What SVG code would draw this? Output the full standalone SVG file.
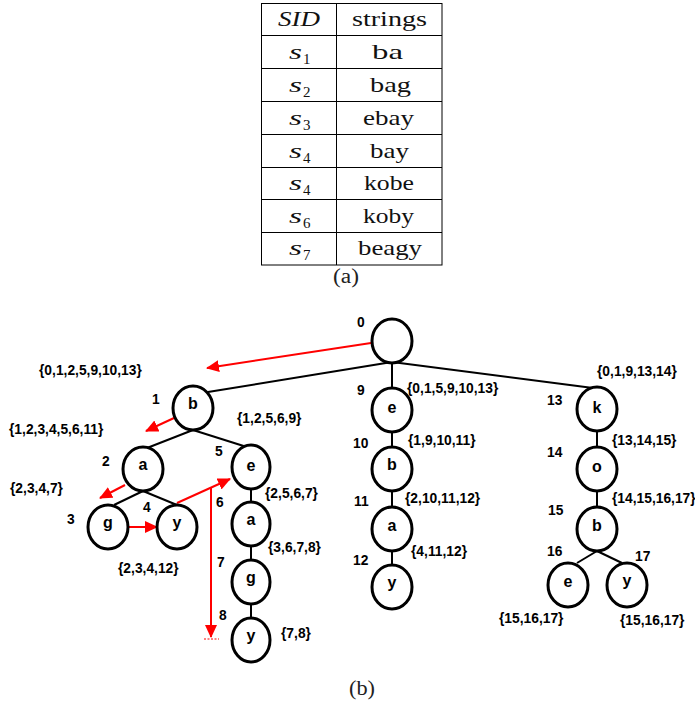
<svg xmlns="http://www.w3.org/2000/svg" width="695" height="706" viewBox="0 0 695 706">
  <style>
    .grid { stroke: #000; stroke-width: 1; fill: none; }
    .tt { font-family: "Liberation Serif", "DejaVu Serif", serif; font-size: 22px; fill: #111; }
    .ti { font-style: italic; }
    .sub { font-family: "Liberation Serif", "DejaVu Serif", serif; font-size: 15px; fill: #111; }
    .cap { font-family: "Liberation Serif", "DejaVu Serif", serif; font-size: 20px; fill: #222; }
    .node ellipse { fill: #fff; stroke: #000; stroke-width: 3; }
    .node text.ch { font-family: "Liberation Sans", Arial, sans-serif; font-weight: bold; font-size: 16px; text-anchor: middle; fill: #000; }
    .lbl { font-family: "Liberation Sans", Arial, sans-serif; font-weight: bold; font-size: 13.8px; fill: #000; }
    .edge { stroke: #000; stroke-width: 2; fill: none; }
    .red { stroke: #ff0000; stroke-width: 2; fill: none; marker-end: url(#ah); }
  </style>
  <defs>
    <marker id="ah" markerWidth="13" markerHeight="12" refX="12" refY="6" orient="auto" markerUnits="userSpaceOnUse">
      <path d="M0,0 L13,6 L0,12 z" fill="#ff0000"/>
    </marker>
  </defs>

  <!-- (a) string table -->
  <g id="table">
    <rect class="grid" x="261.5" y="3.5" width="180.5" height="261.5"/>
    <line class="grid" x1="336.5" y1="3.5" x2="336.5" y2="265"/>
    <line class="grid" x1="261.5" y1="35.5" x2="442" y2="35.5"/>
    <line class="grid" x1="261.5" y1="68.5" x2="442" y2="68.5"/>
    <line class="grid" x1="261.5" y1="101.5" x2="442" y2="101.5"/>
    <line class="grid" x1="261.5" y1="134.5" x2="442" y2="134.5"/>
    <line class="grid" x1="261.5" y1="167.5" x2="442" y2="167.5"/>
    <line class="grid" x1="261.5" y1="199.5" x2="442" y2="199.5"/>
    <line class="grid" x1="261.5" y1="232.5" x2="442" y2="232.5"/>

    <text class="tt ti" x="278" y="26" textLength="42" lengthAdjust="spacingAndGlyphs">SID</text>
    <text class="tt" x="352" y="26" textLength="75" lengthAdjust="spacingAndGlyphs">strings</text>

    <text class="tt ti" x="289" y="59" textLength="13" lengthAdjust="spacingAndGlyphs">s</text><text class="sub" x="303" y="64">1</text>
    <text class="tt ti" x="289" y="92" textLength="13" lengthAdjust="spacingAndGlyphs">s</text><text class="sub" x="303" y="97">2</text>
    <text class="tt ti" x="289" y="125" textLength="13" lengthAdjust="spacingAndGlyphs">s</text><text class="sub" x="303" y="130">3</text>
    <text class="tt ti" x="289" y="158" textLength="13" lengthAdjust="spacingAndGlyphs">s</text><text class="sub" x="303" y="163">4</text>
    <text class="tt ti" x="289" y="190" textLength="13" lengthAdjust="spacingAndGlyphs">s</text><text class="sub" x="303" y="195">4</text>
    <text class="tt ti" x="289" y="223" textLength="13" lengthAdjust="spacingAndGlyphs">s</text><text class="sub" x="303" y="228">6</text>
    <text class="tt ti" x="289" y="255" textLength="13" lengthAdjust="spacingAndGlyphs">s</text><text class="sub" x="303" y="260">7</text>

    <text class="tt" x="372" y="59" textLength="31" lengthAdjust="spacingAndGlyphs">ba</text>
    <text class="tt" x="370" y="92" textLength="41" lengthAdjust="spacingAndGlyphs">bag</text>
    <text class="tt" x="363" y="125" textLength="51" lengthAdjust="spacingAndGlyphs">ebay</text>
    <text class="tt" x="370" y="158" textLength="39" lengthAdjust="spacingAndGlyphs">bay</text>
    <text class="tt" x="364" y="190" textLength="50" lengthAdjust="spacingAndGlyphs">kobe</text>
    <text class="tt" x="363" y="223" textLength="51" lengthAdjust="spacingAndGlyphs">koby</text>
    <text class="tt" x="358" y="255" textLength="64" lengthAdjust="spacingAndGlyphs">beagy</text>
  </g>
  <text class="cap" x="333" y="283" textLength="26" lengthAdjust="spacingAndGlyphs">(a)</text>

  <!-- (b) trie: edges -->
  <g id="connectors">
    <line class="edge" x1="392" y1="362" x2="208" y2="392"/>
    <line class="edge" x1="392" y1="362" x2="392" y2="389"/>
    <line class="edge" x1="392" y1="362" x2="593" y2="388"/>
    <line class="edge" x1="193" y1="430" x2="147" y2="448"/>
    <line class="edge" x1="193" y1="430" x2="250" y2="448"/>
    <line class="edge" x1="143" y1="491" x2="114" y2="505"/>
    <line class="edge" x1="143" y1="491" x2="177" y2="505"/>
    <line class="edge" x1="251" y1="489" x2="251" y2="502"/>
    <line class="edge" x1="251" y1="546" x2="251" y2="560"/>
    <line class="edge" x1="251" y1="604" x2="251" y2="618"/>
    <line class="edge" x1="392" y1="432" x2="392" y2="447"/>
    <line class="edge" x1="392" y1="491" x2="392" y2="507"/>
    <line class="edge" x1="392" y1="551" x2="392" y2="565"/>
    <line class="edge" x1="597" y1="431" x2="597" y2="447"/>
    <line class="edge" x1="597" y1="491" x2="597" y2="507"/>
    <line class="edge" x1="597" y1="551" x2="577" y2="563"/>
    <line class="edge" x1="597" y1="551" x2="622" y2="563"/>

    <!-- traversal arrows -->
    <line class="red" x1="371" y1="343" x2="207" y2="368"/>
    <line class="red" x1="174" y1="418" x2="146" y2="431"/>
    <line class="red" x1="125" y1="485" x2="100" y2="498"/>
    <line class="red" x1="129" y1="527" x2="157" y2="527"/>
    <line class="red" x1="177" y1="503" x2="230" y2="479"/>
    <line class="red" x1="211" y1="487" x2="211" y2="637"/>
    <line x1="204" y1="639" x2="219" y2="639" stroke="#ff0000" stroke-width="1" stroke-dasharray="2,1.5"/>
  </g>

  <!-- nodes -->
  <g id="n0" class="node"><ellipse cx="392" cy="341" rx="20" ry="22"/></g>
  <g id="n1" class="node"><ellipse cx="193" cy="408" rx="20" ry="22"/><text class="ch" x="193" y="409">b</text></g>
  <g id="n2" class="node"><ellipse cx="143" cy="469" rx="20" ry="22"/><text class="ch" x="143" y="470">a</text></g>
  <g id="n3" class="node"><ellipse cx="108" cy="527" rx="20" ry="22"/><text class="ch" x="108" y="528">g</text></g>
  <g id="n4" class="node"><ellipse cx="177" cy="527" rx="20" ry="22"/><text class="ch" x="177" y="528">y</text></g>
  <g id="n5" class="node"><ellipse cx="251" cy="467" rx="19" ry="22"/><text class="ch" x="251" y="471">e</text></g>
  <g id="n6" class="node"><ellipse cx="251" cy="524" rx="19" ry="22"/><text class="ch" x="251" y="525">a</text></g>
  <g id="n7" class="node"><ellipse cx="251" cy="582" rx="19" ry="22"/><text class="ch" x="251" y="583">g</text></g>
  <g id="n8" class="node"><ellipse cx="251" cy="640" rx="19" ry="22"/><text class="ch" x="251" y="641">y</text></g>
  <g id="n9" class="node"><ellipse cx="392" cy="410" rx="20" ry="22"/><text class="ch" x="392" y="413">e</text></g>
  <g id="n10" class="node"><ellipse cx="392" cy="469" rx="20" ry="22"/><text class="ch" x="392" y="470">b</text></g>
  <g id="n11" class="node"><ellipse cx="392" cy="529" rx="20" ry="22"/><text class="ch" x="392" y="531">a</text></g>
  <g id="n12" class="node"><ellipse cx="392" cy="587" rx="20" ry="22"/><text class="ch" x="392" y="588">y</text></g>
  <g id="n13" class="node"><ellipse cx="597" cy="409" rx="20" ry="22"/><text class="ch" x="597" y="413">k</text></g>
  <g id="n14" class="node"><ellipse cx="597" cy="469" rx="20" ry="22"/><text class="ch" x="597" y="472">o</text></g>
  <g id="n15" class="node"><ellipse cx="597" cy="529" rx="20" ry="22"/><text class="ch" x="597" y="531">b</text></g>
  <g id="n16" class="node"><ellipse cx="568" cy="585" rx="20" ry="22"/><text class="ch" x="568" y="587">e</text></g>
  <g id="n17" class="node"><ellipse cx="627" cy="585" rx="20" ry="22"/><text class="ch" x="627" y="586">y</text></g>

  <!-- node numbers and sets -->
  <g id="labels">
    <text class="lbl" x="357" y="327">0</text>
    <text class="lbl" x="39" y="375">{0,1,2,5,9,10,13}</text>
    <text class="lbl" x="152" y="404">1</text>
    <text class="lbl" x="237" y="423">{1,2,5,6,9}</text>
    <text class="lbl" x="9" y="434">{1,2,3,4,5,6,11}</text>
    <text class="lbl" x="102" y="466">2</text>
    <text class="lbl" x="215" y="456">5</text>
    <text class="lbl" x="10" y="493">{2,3,4,7}</text>
    <text class="lbl" x="265" y="498">{2,5,6,7}</text>
    <text class="lbl" x="143" y="512">4</text>
    <text class="lbl" x="216" y="507">6</text>
    <text class="lbl" x="67" y="524">3</text>
    <text class="lbl" x="268" y="552">{3,6,7,8}</text>
    <text class="lbl" x="118" y="573">{2,3,4,12}</text>
    <text class="lbl" x="217" y="567">7</text>
    <text class="lbl" x="219" y="620">8</text>
    <text class="lbl" x="281" y="638">{7,8}</text>
    <text class="lbl" x="357" y="395">9</text>
    <text class="lbl" x="407" y="393">{0,1,5,9,10,13}</text>
    <text class="lbl" x="353" y="448">10</text>
    <text class="lbl" x="408" y="445">{1,9,10,11}</text>
    <text class="lbl" x="354" y="506">11</text>
    <text class="lbl" x="405" y="503">{2,10,11,12}</text>
    <text class="lbl" x="353" y="565">12</text>
    <text class="lbl" x="411" y="556">{4,11,12}</text>
    <text class="lbl" x="547" y="405">13</text>
    <text class="lbl" x="597" y="376">{0,1,9,13,14}</text>
    <text class="lbl" x="547" y="457">14</text>
    <text class="lbl" x="612" y="445">{13,14,15}</text>
    <text class="lbl" x="612" y="503">{14,15,16,17}</text>
    <text class="lbl" x="548" y="515">15</text>
    <text class="lbl" x="547" y="556">16</text>
    <text class="lbl" x="635" y="561">17</text>
    <text class="lbl" x="499" y="623">{15,16,17}</text>
    <text class="lbl" x="620" y="625">{15,16,17}</text>
  </g>
  <text class="cap" x="349" y="695" textLength="26" lengthAdjust="spacingAndGlyphs">(b)</text>
</svg>
